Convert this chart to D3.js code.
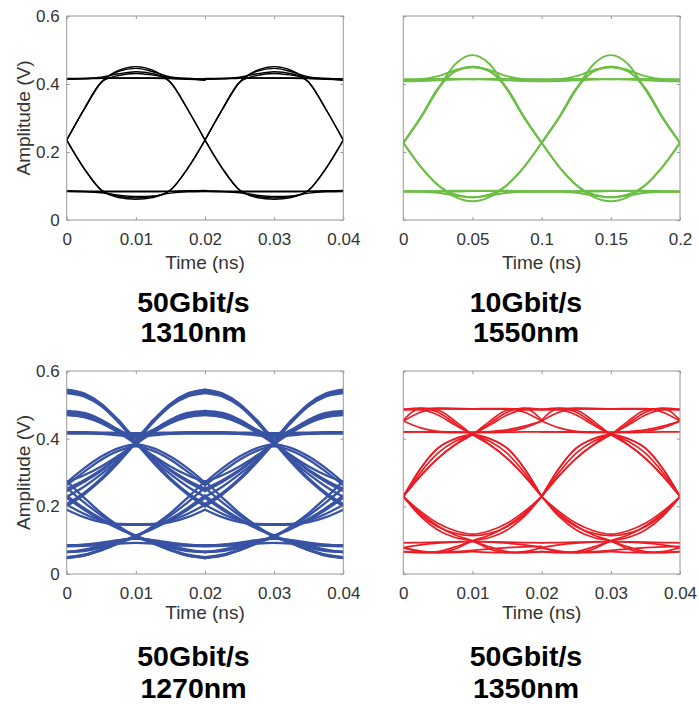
<!DOCTYPE html>
<html><head><meta charset="utf-8">
<script src="https://cdn.jsdelivr.net/npm/d3@7"></script>
<style>
body{margin:0;background:#fff;}
svg{display:block;font-family:"Liberation Sans",Arial,Helvetica,sans-serif;}
</style></head><body>
<svg id="chart" width="699" height="704"></svg>
<script>
// ---------- data ----------
const ampTicks = [0, 0.2, 0.4, 0.6];
const timeTicks50G = [0, 0.01, 0.02, 0.03, 0.04];
const timeTicks10G = [0, 0.05, 0.1, 0.15, 0.2];
const bitPeriod50G = 0.02;
const bitPeriod10G = 0.1;
const rateLabels = ["50Gbit/s", "10Gbit/s", "50Gbit/s", "50Gbit/s"];
const wavelengthLabels = ["1310nm", "1550nm", "1270nm", "1350nm"];
const traceColors = ["#000000", "#6cbe45", "#3953a4", "#ec1c24"];

// Each trace segment: amplitude (V) at 9 equally spaced instants across one bit period.
const seg1310 = [
  [0.235, 0.325, 0.405, 0.440, 0.451, 0.440, 0.405, 0.325, 0.235],
  [0.235, 0.325, 0.405, 0.437, 0.446, 0.436, 0.421, 0.416, 0.415],
  [0.415, 0.416, 0.420, 0.430, 0.436, 0.430, 0.405, 0.325, 0.235],
  [0.235, 0.325, 0.405, 0.425, 0.431, 0.426, 0.419, 0.416, 0.415],
  [0.414, 0.415, 0.417, 0.418, 0.418, 0.418, 0.417, 0.415, 0.411],
  [0.416, 0.416, 0.417, 0.417, 0.417, 0.417, 0.416, 0.414, 0.412],
  [0.235, 0.152, 0.088, 0.066, 0.061, 0.066, 0.088, 0.152, 0.235],
  [0.235, 0.152, 0.088, 0.070, 0.065, 0.070, 0.079, 0.083, 0.084],
  [0.084, 0.083, 0.080, 0.073, 0.069, 0.070, 0.088, 0.152, 0.235],
  [0.085, 0.084, 0.083, 0.083, 0.083, 0.083, 0.084, 0.085, 0.086],
  [0.086, 0.085, 0.085, 0.085, 0.085, 0.085, 0.085, 0.086, 0.087]
];
const seg1550 = [
  [0.227, 0.300, 0.384, 0.458, 0.485, 0.458, 0.384, 0.300, 0.227],
  [0.227, 0.300, 0.385, 0.437, 0.451, 0.441, 0.423, 0.414, 0.412],
  [0.412, 0.414, 0.423, 0.441, 0.451, 0.437, 0.385, 0.300, 0.227],
  [0.227, 0.302, 0.387, 0.438, 0.449, 0.438, 0.387, 0.302, 0.227],
  [0.414, 0.414, 0.415, 0.415, 0.414, 0.413, 0.411, 0.409, 0.408],
  [0.408, 0.409, 0.411, 0.413, 0.414, 0.415, 0.415, 0.414, 0.414],
  [0.227, 0.157, 0.103, 0.068, 0.055, 0.068, 0.103, 0.157, 0.227],
  [0.227, 0.157, 0.103, 0.075, 0.067, 0.072, 0.080, 0.083, 0.084],
  [0.084, 0.083, 0.080, 0.072, 0.067, 0.075, 0.103, 0.157, 0.227],
  [0.085, 0.085, 0.084, 0.084, 0.085, 0.086, 0.086, 0.085, 0.084],
  [0.083, 0.084, 0.085, 0.086, 0.086, 0.085, 0.084, 0.083, 0.083]
];
const seg1270 = [
  [0.540, 0.530, 0.500, 0.450, 0.388, 0.330, 0.278, 0.235, 0.200],
  [0.200, 0.235, 0.278, 0.330, 0.388, 0.450, 0.500, 0.530, 0.540],
  [0.545, 0.534, 0.503, 0.452, 0.392, 0.334, 0.283, 0.240, 0.207],
  [0.207, 0.240, 0.283, 0.334, 0.392, 0.452, 0.503, 0.534, 0.545],
  [0.535, 0.525, 0.496, 0.448, 0.390, 0.338, 0.295, 0.258, 0.228],
  [0.228, 0.258, 0.295, 0.338, 0.390, 0.448, 0.496, 0.525, 0.535],
  [0.478, 0.472, 0.452, 0.422, 0.386, 0.345, 0.305, 0.272, 0.245],
  [0.245, 0.272, 0.305, 0.345, 0.386, 0.422, 0.452, 0.472, 0.478],
  [0.482, 0.476, 0.456, 0.425, 0.389, 0.347, 0.308, 0.277, 0.252],
  [0.252, 0.277, 0.308, 0.347, 0.389, 0.425, 0.456, 0.476, 0.482],
  [0.470, 0.464, 0.446, 0.418, 0.384, 0.350, 0.318, 0.292, 0.272],
  [0.272, 0.292, 0.318, 0.350, 0.384, 0.418, 0.446, 0.464, 0.470],
  [0.476, 0.470, 0.452, 0.425, 0.403, 0.425, 0.452, 0.470, 0.476],
  [0.472, 0.466, 0.449, 0.424, 0.405, 0.424, 0.449, 0.466, 0.472],
  [0.540, 0.530, 0.502, 0.455, 0.407, 0.426, 0.452, 0.470, 0.476],
  [0.476, 0.470, 0.452, 0.426, 0.407, 0.455, 0.502, 0.530, 0.540],
  [0.416, 0.416, 0.416, 0.415, 0.413, 0.415, 0.416, 0.416, 0.416],
  [0.419, 0.419, 0.418, 0.417, 0.416, 0.417, 0.418, 0.419, 0.419],
  [0.416, 0.416, 0.414, 0.410, 0.405, 0.425, 0.452, 0.470, 0.476],
  [0.476, 0.470, 0.452, 0.425, 0.405, 0.410, 0.414, 0.416, 0.416],
  [0.270, 0.312, 0.347, 0.372, 0.383, 0.372, 0.347, 0.312, 0.270],
  [0.262, 0.302, 0.338, 0.364, 0.377, 0.364, 0.338, 0.302, 0.262],
  [0.225, 0.190, 0.160, 0.134, 0.111, 0.090, 0.070, 0.055, 0.047],
  [0.047, 0.055, 0.070, 0.090, 0.111, 0.134, 0.160, 0.190, 0.225],
  [0.232, 0.195, 0.163, 0.136, 0.114, 0.092, 0.072, 0.057, 0.050],
  [0.050, 0.057, 0.072, 0.092, 0.114, 0.136, 0.163, 0.195, 0.232],
  [0.255, 0.212, 0.173, 0.140, 0.112, 0.092, 0.077, 0.068, 0.065],
  [0.065, 0.068, 0.077, 0.092, 0.112, 0.140, 0.173, 0.212, 0.255],
  [0.275, 0.226, 0.180, 0.142, 0.110, 0.096, 0.089, 0.086, 0.085],
  [0.085, 0.086, 0.089, 0.096, 0.110, 0.142, 0.180, 0.226, 0.275],
  [0.190, 0.168, 0.153, 0.146, 0.145, 0.146, 0.153, 0.168, 0.190],
  [0.205, 0.178, 0.158, 0.148, 0.147, 0.148, 0.158, 0.178, 0.205],
  [0.085, 0.087, 0.093, 0.100, 0.104, 0.100, 0.093, 0.087, 0.085],
  [0.065, 0.070, 0.082, 0.096, 0.106, 0.096, 0.082, 0.070, 0.065],
  [0.047, 0.054, 0.071, 0.091, 0.106, 0.099, 0.085, 0.072, 0.065],
  [0.065, 0.072, 0.085, 0.099, 0.106, 0.091, 0.071, 0.054, 0.047],
  [0.082, 0.083, 0.086, 0.090, 0.092, 0.090, 0.086, 0.083, 0.082]
];
const seg1350 = [
  [0.229, 0.290, 0.342, 0.382, 0.412, 0.452, 0.484, 0.489, 0.455],
  [0.455, 0.489, 0.484, 0.452, 0.412, 0.382, 0.342, 0.290, 0.229],
  [0.229, 0.312, 0.372, 0.400, 0.413, 0.445, 0.478, 0.490, 0.486],
  [0.486, 0.490, 0.478, 0.445, 0.413, 0.400, 0.372, 0.312, 0.229],
  [0.229, 0.300, 0.357, 0.392, 0.412, 0.440, 0.470, 0.486, 0.487],
  [0.487, 0.486, 0.470, 0.440, 0.412, 0.392, 0.357, 0.300, 0.229],
  [0.229, 0.290, 0.342, 0.382, 0.412, 0.382, 0.342, 0.290, 0.229],
  [0.229, 0.312, 0.372, 0.400, 0.412, 0.400, 0.372, 0.312, 0.229],
  [0.486, 0.489, 0.490, 0.489, 0.487, 0.487, 0.488, 0.488, 0.486],
  [0.420, 0.420, 0.419, 0.418, 0.418, 0.418, 0.419, 0.420, 0.420],
  [0.452, 0.432, 0.422, 0.420, 0.419, 0.420, 0.422, 0.432, 0.452],
  [0.452, 0.478, 0.489, 0.489, 0.488, 0.488, 0.488, 0.486, 0.486],
  [0.486, 0.486, 0.488, 0.488, 0.488, 0.489, 0.489, 0.478, 0.452],
  [0.420, 0.420, 0.420, 0.419, 0.419, 0.421, 0.426, 0.437, 0.452],
  [0.229, 0.180, 0.142, 0.115, 0.098, 0.074, 0.063, 0.066, 0.078],
  [0.078, 0.066, 0.063, 0.074, 0.098, 0.115, 0.142, 0.180, 0.229],
  [0.229, 0.170, 0.130, 0.108, 0.098, 0.080, 0.066, 0.063, 0.066],
  [0.066, 0.063, 0.066, 0.080, 0.098, 0.108, 0.130, 0.170, 0.229],
  [0.229, 0.185, 0.150, 0.128, 0.118, 0.128, 0.150, 0.185, 0.229],
  [0.229, 0.175, 0.140, 0.120, 0.113, 0.120, 0.140, 0.175, 0.229],
  [0.066, 0.064, 0.063, 0.064, 0.066, 0.064, 0.063, 0.064, 0.066],
  [0.092, 0.093, 0.094, 0.095, 0.096, 0.095, 0.094, 0.093, 0.092],
  [0.078, 0.086, 0.091, 0.094, 0.096, 0.094, 0.091, 0.086, 0.078],
  [0.078, 0.068, 0.064, 0.066, 0.070, 0.074, 0.078, 0.080, 0.082]
];

// ---------- drawing ----------
const svg = d3.select("#chart");
const panels = [
  {segs: seg1310, ticks: timeTicks50G, ui: bitPeriod50G, x0: 66.7, x1: 343.3, y0: 16, y1: 220, yAxis: true, width: 1.4, tx: 193.5},
  {segs: seg1550, ticks: timeTicks10G, ui: bitPeriod10G, x0: 403.3, x1: 680, y0: 16, y1: 220, yAxis: false, width: 1.9, tx: 526},
  {segs: seg1270, ticks: timeTicks50G, ui: bitPeriod50G, x0: 66.7, x1: 343.3, y0: 371, y1: 574, yAxis: true, width: 2.3, tx: 193.5},
  {segs: seg1350, ticks: timeTicks50G, ui: bitPeriod50G, x0: 403.3, x1: 680, y0: 371, y1: 574, yAxis: false, width: 1.7, tx: 526}
];
const frameColor = "#999999", textColor = "#333333";

panels.forEach((p, idx) => {
  const xMax = p.ticks[p.ticks.length - 1];
  const x = d3.scaleLinear().domain([0, xMax]).range([p.x0, p.x1]);
  const y = d3.scaleLinear().domain([0, 0.6]).range([p.y1, p.y0]);
  const g = svg.append("g");

  const clipId = "clip" + idx;
  svg.append("clipPath").attr("id", clipId).append("rect")
    .attr("x", p.x0).attr("y", p.y0).attr("width", p.x1 - p.x0).attr("height", p.y1 - p.y0);

  const line = d3.line().x(d => x(d[0])).y(d => y(d[1])).curve(d3.curveMonotoneX);
  const nUI = Math.round(xMax / p.ui);
  const traces = g.append("g").attr("clip-path", `url(#${clipId})`);
  for (let k = 0; k < nUI; k++) {
    p.segs.forEach(s => {
      const pts = s.map((v, i) => [k * p.ui + i * p.ui / (s.length - 1), v]);
      traces.append("path").attr("d", line(pts)).attr("fill", "none")
        .attr("stroke", traceColors[idx]).attr("stroke-width", p.width)
        .attr("stroke-linejoin", "round").attr("stroke-linecap", "round");
    });
  }

  // axes
  const xb = g.append("g").attr("transform", `translate(0,${p.y1})`)
    .call(d3.axisBottom(x).tickValues(p.ticks).tickFormat(d => String(d)).tickSize(-3).tickPadding(13));
  const xt = g.append("g").attr("transform", `translate(0,${p.y0})`)
    .call(d3.axisTop(x).tickValues(p.ticks).tickFormat("").tickSize(-3));
  const yl = g.append("g").attr("transform", `translate(${p.x0},0)`)
    .call(d3.axisLeft(y).tickValues(ampTicks).tickFormat(p.yAxis ? (d => String(d)) : "").tickSize(-3).tickPadding(7));
  const yr = g.append("g").attr("transform", `translate(${p.x1},0)`)
    .call(d3.axisRight(y).tickValues(ampTicks).tickFormat("").tickSize(-3));
  [xb, xt, yl, yr].forEach(a => {
    a.select(".domain").remove();
    a.selectAll(".tick line").attr("stroke", frameColor);
    a.selectAll(".tick text").attr("fill", textColor).style("font-size", "17px")
      .style("font-family", '"Liberation Sans",Arial,Helvetica,sans-serif');
  });
  g.append("rect").attr("x", p.x0).attr("y", p.y0).attr("width", p.x1 - p.x0).attr("height", p.y1 - p.y0)
    .attr("fill", "none").attr("stroke", frameColor).attr("stroke-width", 1);

  const cx = (p.x0 + p.x1) / 2;
  g.append("text").attr("x", cx).attr("y", p.y1 + (idx < 2 ? 49 : 45))
    .attr("text-anchor", "middle").attr("fill", textColor).style("font-size", "19px").text("Time (ns)");
  if (p.yAxis) {
    g.append("text").attr("transform", `translate(30,${(p.y0 + p.y1) / 2}) rotate(-90)`)
      .attr("text-anchor", "middle").attr("fill", textColor).style("font-size", "19px").text("Amplitude (V)");
  }
  g.append("text").attr("x", p.tx).attr("y", p.y1 + 92).attr("text-anchor", "middle")
    .attr("fill", "#000").style("font-size", "28.5px").style("font-weight", "bold").text(rateLabels[idx]);
  g.append("text").attr("x", p.tx).attr("y", p.y1 + (idx < 2 ? 122 : 124)).attr("text-anchor", "middle")
    .attr("fill", "#000").style("font-size", "28.5px").style("font-weight", "bold").text(wavelengthLabels[idx]);
});
</script>
</body></html>
